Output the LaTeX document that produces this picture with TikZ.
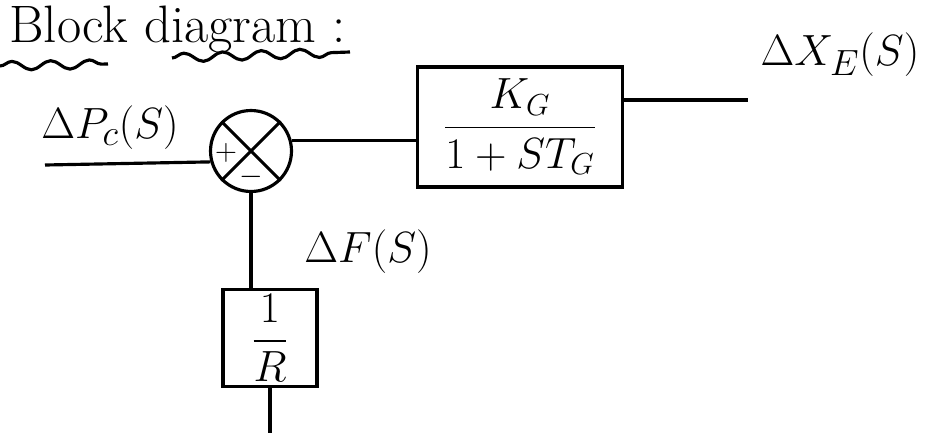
\documentclass[tikz,border=0pt]{standalone}
\usepackage{amsmath,amssymb}
\usetikzlibrary{positioning,calc,decorations.pathmorphing}

\begin{document}
\begin{tikzpicture}[x=0.02cm,y=-0.02cm,line width=1.8pt,
  blk/.style={draw,line width=1.8pt,inner sep=2pt},
  sumnode/.style={draw,circle,line width=1.8pt,minimum size=1.62cm,inner sep=0pt},
  sgn/.style={font=\LARGE,inner sep=0pt},
  lbl/.style={font=\Huge},
  wavy/.style={decorate,decoration={snake,amplitude=2.5pt,segment length=22pt}}]
\useasboundingbox (0,0) rectangle (950,433);
% title with wavy underlines
\node[font=\fontsize{30}{36}\selectfont,anchor=base west] (ttl) at (2,42) {Block diagram :};
\draw[wavy] (0,66) -- (108,64);
\draw[wavy] (172,58) -- (350,52);
% summing point and blocks
\node[sumnode] (sum) at (251,151) {};
\draw (sum.45) -- (sum.225);
\draw (sum.135) -- (sum.315);
\node[sgn] (plus) at ($(sum)+(-25,2)$) {$+$};
\node[sgn] (minus) at ($(sum)+(0,26)$) {$-$};
\node[blk,minimum width=4.1cm,minimum height=2.4cm,font=\fontsize{27}{32}\selectfont] (kg) at (520,127) {$\dfrac{K_G}{1+ST_G}$};
\node[blk,minimum width=1.88cm,minimum height=1.94cm,font=\Huge] (rb) at (270,338) {$\dfrac{1}{R}$};
% signals
\coordinate (in) at (45,165);
\coordinate (out) at (748,100);
\coordinate (fb) at (270,433);
\draw (in) -- (sum.195);
\draw (sum.15) -- (sum.15 -| kg.west);
\draw (kg.east |- out) -- (out);
\draw (sum.south) -- (sum.south |- rb.north);
\draw (rb.south) -- (fb);
% labels
\node[lbl] (pc) at (110,128) {$\Delta P_c(S)$};
\node[lbl] (xe) at (840,55) {$\Delta X_E(S)$};
\node[lbl] (df) at (368,252) {$\Delta F(S)$};
\end{tikzpicture}
\end{document}
